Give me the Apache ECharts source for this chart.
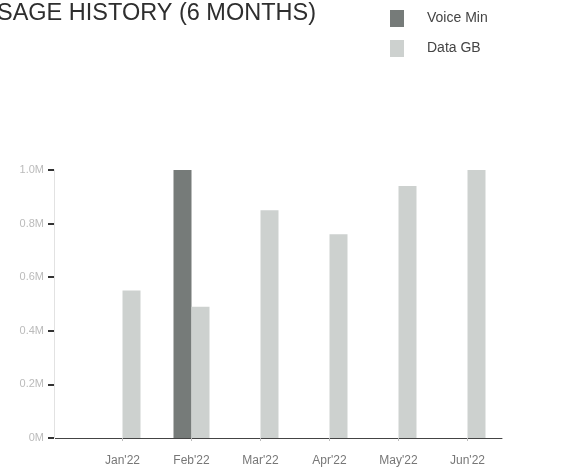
<!DOCTYPE html>
<html>
<head>
<meta charset="utf-8">
<script src="https://cdn.jsdelivr.net/npm/echarts@6/dist/echarts.min.js"></script>
<style>html,body{margin:0;padding:0;background:#fff}#c{width:566px;height:471px}</style>
</head>
<body>
<div id="c"></div>
<script>
const months = ["Jan'22", "Feb'22", "Mar'22", "Apr'22", "May'22", "Jun'22"];
const voiceMin = [0, 1.0, 0, 0, 0, 0];
const dataGB = [0.55, 0.49, 0.85, 0.76, 0.94, 1.0];
const yTickLabels = ["0M", "0.2M", "0.4M", "0.6M", "0.8M", "1.0M"];
const seriesNames = ["Voice Min", "Data GB"];

const chart = echarts.init(document.getElementById('c'), null, {renderer: 'canvas'});
chart.setOption({
  animation: false,
  backgroundColor: '#ffffff',
  title: {
    text: 'USAGE HISTORY (6 MONTHS)',
    left: -25, top: -3,
    textStyle: {fontFamily: 'Liberation Sans', fontSize: 23.5, fontWeight: 'normal', color: '#2e2e2e'}
  },
  legend: {
    orient: 'vertical', left: 385, top: 5,
    itemWidth: 14, itemHeight: 17, itemGap: 13,
    icon: 'rect',
    textStyle: {fontFamily: 'Liberation Sans', fontSize: 14, color: '#444', padding: [0, 0, 0, 18]},
    data: seriesNames
  },
  grid: {left: 88, right: 64, top: 170, bottom: 33},
  xAxis: {
    type: 'category', data: months,
    axisLine: {lineStyle: {color: '#444', width: 1}},
    axisTick: {show: true, alignWithLabel: true, length: 3, lineStyle: {color: '#bbb'}},
    axisLabel: {fontFamily: 'Liberation Sans', fontSize: 12, color: '#777', margin: 17}
  },
  yAxis: {
    type: 'value', min: 0, max: 1.0, interval: 0.2,
    offset: 34,
    splitLine: {show: false},
    axisLine: {show: true, lineStyle: {color: '#e2e2e2'}},
    axisTick: {show: true, length: 6, lineStyle: {color: '#333', width: 2}},
    axisLabel: {fontFamily: 'Liberation Sans', fontSize: 11, color: '#bbb', margin: 10,
      formatter: function (v) { return yTickLabels[Math.round(v / 0.2)]; }}
  },
  graphic: [{
    type: 'line', shape: {x1: 55, y1: 438.5, x2: 88, y2: 438.5},
    style: {stroke: '#444', lineWidth: 1}
  }],
  series: [
    {name: seriesNames[0], type: 'bar', data: voiceMin, barWidth: 18, barGap: '0%',
      itemStyle: {color: '#767b79'}},
    {name: seriesNames[1], type: 'bar', data: dataGB, barWidth: 18,
      itemStyle: {color: '#cdd1cf'}}
  ]
});
</script>
</body>
</html>
